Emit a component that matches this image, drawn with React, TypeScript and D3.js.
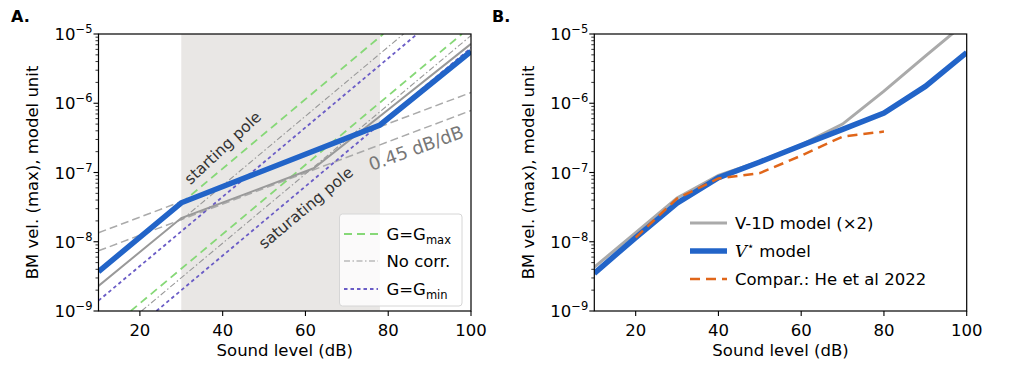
import React, { useEffect, useRef } from "react";
import * as d3 from "d3";

const W = 1017;
const H = 367;
const FONT = "DejaVu Sans";

// ---- panel A values ----
const modelDb = [10, 30, 78, 100];
const modelVel = [3.7e-9, 3.65e-8, 4.85e-7, 5.6e-6];
const noCorrDb = [10, 30, 62, 78, 100];
const noCorrVel = [2.3e-9, 2.2e-8, 1.15e-7, 6.5e-7, 7.2e-6];
const slopeDb = [10, 100];
const slopeHiVel = [1.35e-8, 1.43e-6];
const slopeLoVel = [7.4e-9, 7.85e-7];
// starting / saturating pole asymptotes (end points)
const gmaxStartDb = [30, 78.8];
const gmaxStartVel = [3.6e-8, 1e-5];
const gmaxSatDb = [17.8, 97.8];
const gmaxSatVel = [1e-9, 1e-5];
const noCorrStartDb = [30, 83.7];
const noCorrStartVel = [2.05e-8, 1e-5];
const noCorrSatDb = [20.4, 100];
const noCorrSatVel = [1e-9, 9.5e-6];
const gminStartDb = [10, 87];
const gminStartVel = [1.41e-9, 1e-5];
const gminSatDb = [24, 100];
const gminSatVel = [1e-9, 6.3e-6];
const shadeDb = [30, 78];

// ---- panel B values ----
const levelsB = [10, 20, 30, 40, 50, 60, 70, 80, 90, 100];
const v1dVel = [4.3e-9, 1.35e-8, 4.3e-8, 9.1e-8, 1.45e-7, 2.5e-7, 5e-7, 1.5e-6, 4.8e-6, 1.5e-5];
const vstarVel = [3.5e-9, 1.15e-8, 3.6e-8, 8.4e-8, 1.42e-7, 2.45e-7, 4.2e-7, 7.2e-7, 1.75e-6, 5.4e-6];
const heDb = [20, 30, 40, 50, 60, 70, 80];
const heVel = [1.15e-8, 4.2e-8, 8.2e-8, 9.8e-8, 1.75e-7, 3.3e-7, 3.9e-7];

// ---- ticks ----
const xTicks = [20, 40, 60, 80, 100];
const yExps = [-9, -8, -7, -6, -5];

const BLUE = "#2264c8";
const GREEN = "#86d877";
const PURPLE = "#6a5cc6";

const zip = (xs: number[], ys: number[]) => xs.map((v, i) => [v, ys[i]] as [number, number]);

export default function App() {
  const ref = useRef<SVGSVGElement>(null);

  useEffect(() => {
    const svg = d3.select(ref.current);
    svg.selectAll("*").remove();

    const top = 34, bottom = 311;
    const xA = d3.scaleLinear().domain([10, 100]).range([98.5, 471]);
    const xB = d3.scaleLinear().domain([10, 100]).range([594.3, 966.7]);
    const y = d3.scaleLog().domain([1e-9, 1e-5]).range([bottom, top]);

    const panel = (x: d3.ScaleLinear<number, number>, id: string, letter: string, lx: number, ylabX: number) => {
      const [x0, x1] = x.range();
      svg.append("clipPath").attr("id", id).append("rect")
        .attr("x", x0).attr("y", top).attr("width", x1 - x0).attr("height", bottom - top);
      const g = svg.append("g");
      const plot = g.append("g").attr("clip-path", `url(#${id})`);
      const axes = g.append("g");

      // x ticks
      xTicks.forEach((t) => {
        axes.append("line").attr("x1", x(t)).attr("x2", x(t)).attr("y1", bottom).attr("y2", bottom + 5)
          .attr("stroke", "#000").attr("stroke-width", 1.1);
        axes.append("text").attr("x", x(t)).attr("y", bottom + 25).attr("text-anchor", "middle")
          .attr("font-size", 16.5).attr("font-family", FONT).text(t);
      });
      // y ticks
      yExps.forEach((e) => {
        const py = y(Math.pow(10, e));
        axes.append("line").attr("x1", x0 - 5).attr("x2", x0).attr("y1", py).attr("y2", py)
          .attr("stroke", "#000").attr("stroke-width", 1.1);
        const t = axes.append("text").attr("x", x0 - 6).attr("y", py + 6).attr("text-anchor", "end")
          .attr("font-size", 16.5).attr("font-family", FONT);
        t.append("tspan").text("10");
        t.append("tspan").attr("dy", -7).attr("font-size", 11.5).text("\u2212" + Math.abs(e));
        if (e < -5) {
          for (let k = 2; k <= 9; k++) {
            const my = y(k * Math.pow(10, e));
            axes.append("line").attr("x1", x0 - 3).attr("x2", x0).attr("y1", my).attr("y2", my)
              .attr("stroke", "#000").attr("stroke-width", 0.8);
          }
        }
      });
      axes.append("rect").attr("x", x0).attr("y", top).attr("width", x1 - x0).attr("height", bottom - top)
        .attr("fill", "none").attr("stroke", "#000").attr("stroke-width", 1.2);

      axes.append("text").attr("x", (x0 + x1) / 2).attr("y", 356).attr("text-anchor", "middle")
        .attr("font-size", 16.5).attr("font-family", FONT).text("Sound level (dB)");
      axes.append("text").attr("transform", `translate(${ylabX},${(top + bottom) / 2}) rotate(-90)`)
        .attr("text-anchor", "middle").attr("font-size", 16.5).attr("font-family", FONT)
        .text("BM vel. (max), model unit");
      axes.append("text").attr("x", lx).attr("y", 22).attr("font-size", 16).attr("font-weight", "bold")
        .attr("font-family", FONT).text(letter);
      return { plot, axes };
    };

    // ---------- panel A ----------
    const A = panel(xA, "clipA", "A.", 11, 38);
    const lineA = d3.line<[number, number]>().x((d) => xA(d[0])).y((d) => y(d[1]));
    A.plot.append("rect").attr("x", xA(shadeDb[0])).attr("y", top)
      .attr("width", xA(shadeDb[1]) - xA(shadeDb[0])).attr("height", bottom - top).attr("fill", "#e9e7e5");

    const addA = (xs: number[], ys: number[], color: string, w: number, dash: string | null) => {
      A.plot.append("path").attr("d", lineA(zip(xs, ys))).attr("fill", "none").attr("stroke", color)
        .attr("stroke-width", w).attr("stroke-dasharray", dash);
    };
    addA(slopeDb, slopeHiVel, "#aaaaaa", 1.5, "8,4");
    addA(slopeDb, slopeLoVel, "#aaaaaa", 1.5, "8,4");
    addA(noCorrStartDb, noCorrStartVel, "#999999", 1.1, "6,2.5,1.5,2.5");
    addA(noCorrSatDb, noCorrSatVel, "#999999", 1.1, "6,2.5,1.5,2.5");
    addA(gmaxStartDb, gmaxStartVel, GREEN, 1.8, "8,5");
    addA(gmaxSatDb, gmaxSatVel, GREEN, 1.8, "8,5");
    addA(gminStartDb, gminStartVel, PURPLE, 1.8, "3.5,3");
    addA(gminSatDb, gminSatVel, PURPLE, 1.8, "3.5,3");
    addA(noCorrDb, noCorrVel, "#999999", 2, null);
    addA(modelDb, modelVel, BLUE, 5.5, null);

    const note = (txt: string, cx: number, cy: number, ang: number, size: number, color: string) => {
      A.axes.append("text").attr("transform", `translate(${cx},${cy}) rotate(${ang})`)
        .attr("text-anchor", "middle").attr("dominant-baseline", "central")
        .attr("font-size", size).attr("font-family", FONT).attr("fill", color).text(txt);
    };
    note("starting pole", 223, 148, -43, 15.5, "#333333");
    note("saturating pole", 306, 208, -40, 15.5, "#333333");
    note("0.45 dB/dB", 416, 148, -20, 18, "#777777");

    // legend A
    const lg = A.axes.append("g");
    lg.append("rect").attr("x", 339.5).attr("y", 214).attr("width", 122.5).attr("height", 92).attr("rx", 3)
      .attr("fill", "#fff").attr("fill-opacity", 0.8).attr("stroke", "#d6d6d6");
    const legA = [
      { color: GREEN, w: 1.8, dash: "8,5", y: 234, label: "G=G", sub: "max" },
      { color: "#999999", w: 1.1, dash: "6,2.5,1.5,2.5", y: 261, label: "No corr.", sub: "" },
      { color: PURPLE, w: 1.8, dash: "3.5,3", y: 289, label: "G=G", sub: "min" },
    ];
    legA.forEach((d) => {
      lg.append("line").attr("x1", 344).attr("x2", 378).attr("y1", d.y).attr("y2", d.y)
        .attr("stroke", d.color).attr("stroke-width", d.w).attr("stroke-dasharray", d.dash);
      const t = lg.append("text").attr("x", 386.5).attr("y", d.y + 6).attr("font-size", 16.5).attr("font-family", FONT);
      t.append("tspan").text(d.label);
      if (d.sub) t.append("tspan").attr("dy", 4).attr("font-size", 11.5).text(d.sub);
    });

    // ---------- panel B ----------
    const B = panel(xB, "clipB", "B.", 492, 534);
    const lineB = d3.line<[number, number]>().x((d) => xB(d[0])).y((d) => y(d[1]));
    B.plot.append("path").attr("d", lineB(zip(levelsB, v1dVel))).attr("fill", "none")
      .attr("stroke", "#aaaaaa").attr("stroke-width", 3);
    B.plot.append("path").attr("d", lineB(zip(levelsB, vstarVel))).attr("fill", "none")
      .attr("stroke", BLUE).attr("stroke-width", 5.5);
    B.plot.append("path").attr("d", lineB(zip(heDb, heVel))).attr("fill", "none")
      .attr("stroke", "#e0661a").attr("stroke-width", 2.5).attr("stroke-dasharray", "10,6");

    const lgB = B.axes.append("g");
    const legB = [
      { color: "#aaaaaa", w: 3, dash: null, y: 223 },
      { color: BLUE, w: 5.5, dash: null, y: 251 },
      { color: "#e0661a", w: 2.5, dash: "10,6", y: 279 },
    ];
    legB.forEach((d) => {
      lgB.append("line").attr("x1", 690).attr("x2", 727).attr("y1", d.y).attr("y2", d.y)
        .attr("stroke", d.color).attr("stroke-width", d.w).attr("stroke-dasharray", d.dash);
    });
    const tb = (yy: number) => lgB.append("text").attr("x", 735).attr("y", yy + 6)
      .attr("font-size", 16.5).attr("font-family", FONT);
    tb(223).text("V-1D model (\u00d72)");
    const t2 = tb(251);
    t2.append("tspan").attr("font-family", "DejaVu Serif").attr("font-style", "italic").text("V");
    t2.append("tspan").attr("dy", -7).attr("font-size", 11.5).text("\u22c6");
    t2.append("tspan").attr("dy", 7).text(" model");
    tb(279).text("Compar.: He et al 2022");
  }, []);

  return (
    <svg ref={ref} width={W} height={H}
      style={{ position: "absolute", left: 0, top: 0, background: "#fff" }} />
  );
}
